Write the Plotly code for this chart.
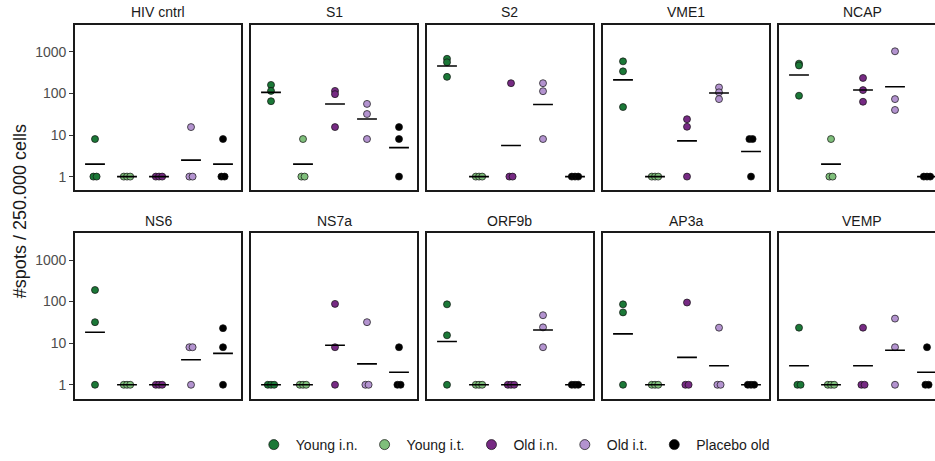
import plotly.graph_objects as go
import numpy as np
from collections import Counter

W, H = 935, 461

panels = ["HIV cntrl", "S1", "S2", "VME1", "NCAP",
          "NS6", "NS7a", "ORF9b", "AP3a", "VEMP"]
groups = ["Young i.n.", "Young i.t.", "Old i.n.", "Old i.t.", "Placebo old"]
colors = ["#1b7837", "#7fbf7b", "#762a83", "#b393cf", "#000000"]

young_in = [[8, 1, 1], [160, 115, 65], [680, 560, 250], [590, 340, 47], [520, 470, 88],
            [190, 32, 1], [1, 1, 1], [86, 15.5, 1], [86, 55, 1], [23.6, 1, 1]]
young_it = [[1, 1, 1], [8, 1, 1], [1, 1, 1], [1, 1, 1], [8, 1, 1],
            [1, 1, 1], [1, 1, 1], [1, 1, 1], [1, 1, 1], [1, 1, 1]]
old_in = [[1, 1, 1], [115, 96, 15.5], [176, 1, 1], [24, 15.8, 1], [235, 120, 63],
          [1, 1, 1], [88, 8, 1], [1, 1, 1], [95, 1, 1], [23.6, 1, 1]]
old_it = [[15.5, 1, 1], [56, 32, 8], [176, 113, 8], [139, 106, 73], [1030, 73, 40],
          [8, 8, 1], [32, 1, 1], [47, 24, 8], [23.6, 1, 1], [39, 8, 1]]
placebo = [[8, 1, 1], [15.5, 8, 1], [1, 1, 1], [8, 8, 1], [1, 1, 1],
           [23, 8, 1], [8, 1, 1], [1, 1, 1], [1, 1, 1], [8, 1, 1]]
series = [young_in, young_it, old_in, old_it, placebo]

ytick_vals = [1, 10, 100, 1000]
ytick_text = ["1", "10", "100", "1000"]

# layout geometry (pixels)
col_left = [75, 251, 427, 603, 779]
panel_w = 166
row_top = [25, 235]
panel_h = 167
px_per_unit = 32.0
x_lo = 0.375
dodge = 0.1
half_bar = 0.31

font_fam = "Liberation Sans, Arial, sans-serif"

fig = go.Figure()
layout = dict(
    width=W, height=H, margin=dict(l=0, r=0, t=0, b=0),
    paper_bgcolor="white", plot_bgcolor="white",
    font=dict(family=font_fam, size=14, color="#1a1a1a"),
    showlegend=True,
)
annotations = []

for p, name in enumerate(panels):
    n = p + 1
    r, c = divmod(p, 5)
    x0 = col_left[c]
    x1 = min(x0 + panel_w, W)
    y0 = row_top[r]
    y1 = y0 + panel_h
    xr = [x_lo, x_lo + (x1 - x0) / px_per_unit]
    xa = dict(domain=[x0 / W, x1 / W], range=xr, anchor="y%d" % n,
              showline=True, mirror=True, linecolor="#1a1a1a", linewidth=1.6,
              showticklabels=False, ticks="", showgrid=False, zeroline=False,
              fixedrange=True)
    ya = dict(domain=[1 - y1 / H, 1 - y0 / H], type="log", range=[-0.33, 3.65],
              anchor="x%d" % n, showline=True, mirror=(c != 4),
              linecolor="#1a1a1a", linewidth=1.6, showgrid=False, zeroline=False,
              tickvals=ytick_vals, ticktext=ytick_text, fixedrange=True)
    if c == 0:
        ya.update(ticks="outside", ticklen=4, tickwidth=1, tickcolor="#333333",
                  showticklabels=True, tickfont=dict(size=14, color="#4d4d4d"))
    else:
        ya.update(ticks="", showticklabels=False)
    layout["xaxis%d" % n] = xa
    layout["yaxis%d" % n] = ya

    annotations.append(dict(text=name, x=(x0 + x0 + panel_w) / 2 / W,
                            y=1 - (y0 - 12.5) / H, xref="paper", yref="paper",
                            showarrow=False, xanchor="center", yanchor="middle",
                            font=dict(size=14, color="#1a1a1a")))

    for g, (gname, col, data) in enumerate(zip(groups, colors, series)):
        vals = data[p]
        cnt = Counter(vals)
        seen = Counter()
        xs = []
        for v in vals:
            k = cnt[v]
            j = seen[v]
            seen[v] += 1
            xs.append(g + 1 + (j - (k - 1) / 2) * dodge)
        fig.add_trace(go.Scatter(
            x=xs, y=vals, mode="markers", xaxis="x%d" % n, yaxis="y%d" % n,
            marker=dict(size=7, color=col, line=dict(color="#111111", width=0.7)),
            showlegend=False, hoverinfo="skip"))
        gm = float(np.exp(np.mean(np.log(vals))))
        fig.add_trace(go.Scatter(
            x=[g + 1 - half_bar, g + 1 + half_bar], y=[gm, gm], mode="lines",
            xaxis="x%d" % n, yaxis="y%d" % n,
            line=dict(color="#000000", width=1.6), showlegend=False,
            hoverinfo="skip"))

# legend entries
for gname, col in zip(groups, colors):
    fig.add_trace(go.Scatter(
        x=[None], y=[None], mode="markers", name=gname, xaxis="x1", yaxis="y1",
        marker=dict(size=10, color=col, line=dict(color="#111111", width=0.7))))

annotations.append(dict(text="#spots / 250.000 cells", x=20 / W, y=1 - 213 / H,
                        xref="paper", yref="paper", showarrow=False, textangle=-90,
                        xanchor="center", yanchor="middle",
                        font=dict(size=18, color="#1a1a1a")))

layout["annotations"] = annotations
layout["legend"] = dict(orientation="h", x=0.549, xanchor="center", y=1 - 449 / H,
                        yanchor="middle", font=dict(size=14, color="#1a1a1a"),
                        itemwidth=34, bgcolor="rgba(0,0,0,0)", itemclick=False)
fig.update_layout(**layout)
fig.write_html("out.html", config={"displayModeBar": False},
               post_script="document.body.style.margin='0px';")
